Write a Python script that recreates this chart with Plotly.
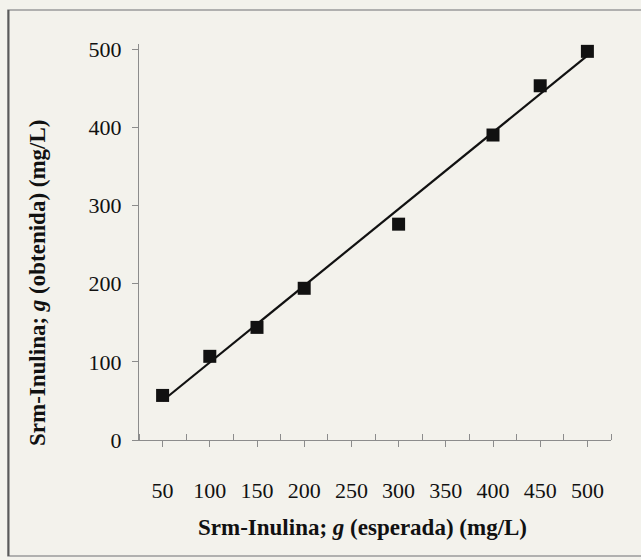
import numpy as np
import plotly.graph_objects as go

# Data
x_expected = [50, 100, 150, 200, 300, 400, 450, 500]
y_obtained = [57, 107, 144, 194, 276, 390, 453, 497]
x_ticks = [50, 100, 150, 200, 250, 300, 350, 400, 450, 500]
y_ticks = [0, 100, 200, 300, 400, 500]

x_title = "<b>Srm-Inulina; <i>g</i> (esperada) (mg/L)</b>"
y_title = "<b>Srm-Inulina; <i>g</i> (obtenida) (mg/L)</b>"

# linear regression line
slope, intercept = np.polyfit(x_expected, y_obtained, 1)
fit_x = [min(x_expected), max(x_expected)]
fit_y = [slope * v + intercept for v in fit_x]

W, H = 641, 560
L, R, T, B = 139, 30, 44, 120
PW, PH = W - L - R, H - T - B

def px(xp):
    return (xp - L) / PW

def py(yp):
    return (H - B - yp) / PH

BG = "#f3f2ec"
AX = "#8c8c8c"
TXT = "#111111"
FONT = "Liberation Serif, Times New Roman, serif"

fig = go.Figure()
fig.add_trace(go.Scatter(
    x=fit_x, y=fit_y, mode="lines",
    line=dict(color="#111111", width=2.2), showlegend=False, hoverinfo="skip"))
fig.add_trace(go.Scatter(
    x=x_expected, y=y_obtained, mode="markers",
    marker=dict(symbol="square", size=13, color="#111111"),
    showlegend=False))

fig.update_layout(
    width=W, height=H,
    margin=dict(l=L, r=R, t=T, b=B),
    paper_bgcolor=BG, plot_bgcolor=BG,
    font=dict(family=FONT, color=TXT),
    xaxis=dict(
        range=[25, 525], tickmode="array", tickvals=x_ticks,
        ticktext=[str(v) for v in x_ticks],
        showgrid=False, zeroline=False, showline=True, linecolor=AX, linewidth=1,
        ticks="outside", ticklen=6, tickcolor=AX, tickwidth=1,
        ticklabelstandoff=25,
        tickfont=dict(family=FONT, size=22, color=TXT),
        minor=dict(ticks="inside", tick0=25, dtick=50, ticklen=6, tickcolor=AX, tickwidth=1, showgrid=False),
    ),
    yaxis=dict(
        range=[0, 506.4], tickmode="array", tickvals=y_ticks,
        ticktext=[str(v) for v in y_ticks],
        showgrid=False, zeroline=False, showline=True, linecolor=AX, linewidth=1,
        ticks="outside", ticklen=6, tickcolor=AX, tickwidth=1,
        ticklabelstandoff=6,
        tickfont=dict(family=FONT, size=22, color=TXT),
    ),
    annotations=[
        dict(text=x_title, xref="paper", yref="paper", x=px(362), y=py(527),
             xanchor="center", yanchor="middle", showarrow=False,
             font=dict(family=FONT, size=23, color=TXT)),
        dict(text=y_title, xref="paper", yref="paper", x=px(37), y=py(283),
             xanchor="center", yanchor="middle", showarrow=False, textangle=-90,
             font=dict(family=FONT, size=23, color=TXT)),
    ],
    shapes=[
        dict(type="rect", xref="paper", yref="paper",
             x0=px(8), x1=px(660), y0=py(556), y1=py(10),
             line=dict(color="#9a9a9a", width=1.5), layer="below"),
        dict(type="line", xref="paper", yref="paper",
             x0=px(8.5), x1=px(8.5), y0=py(556), y1=py(10),
             line=dict(color="#5a5a5a", width=2)),
    ],
)

fig.write_html(
    "out.html",
    config={"displayModeBar": False},
    post_script="document.body.style.margin='0';document.body.style.background='%s';" % BG,
)
